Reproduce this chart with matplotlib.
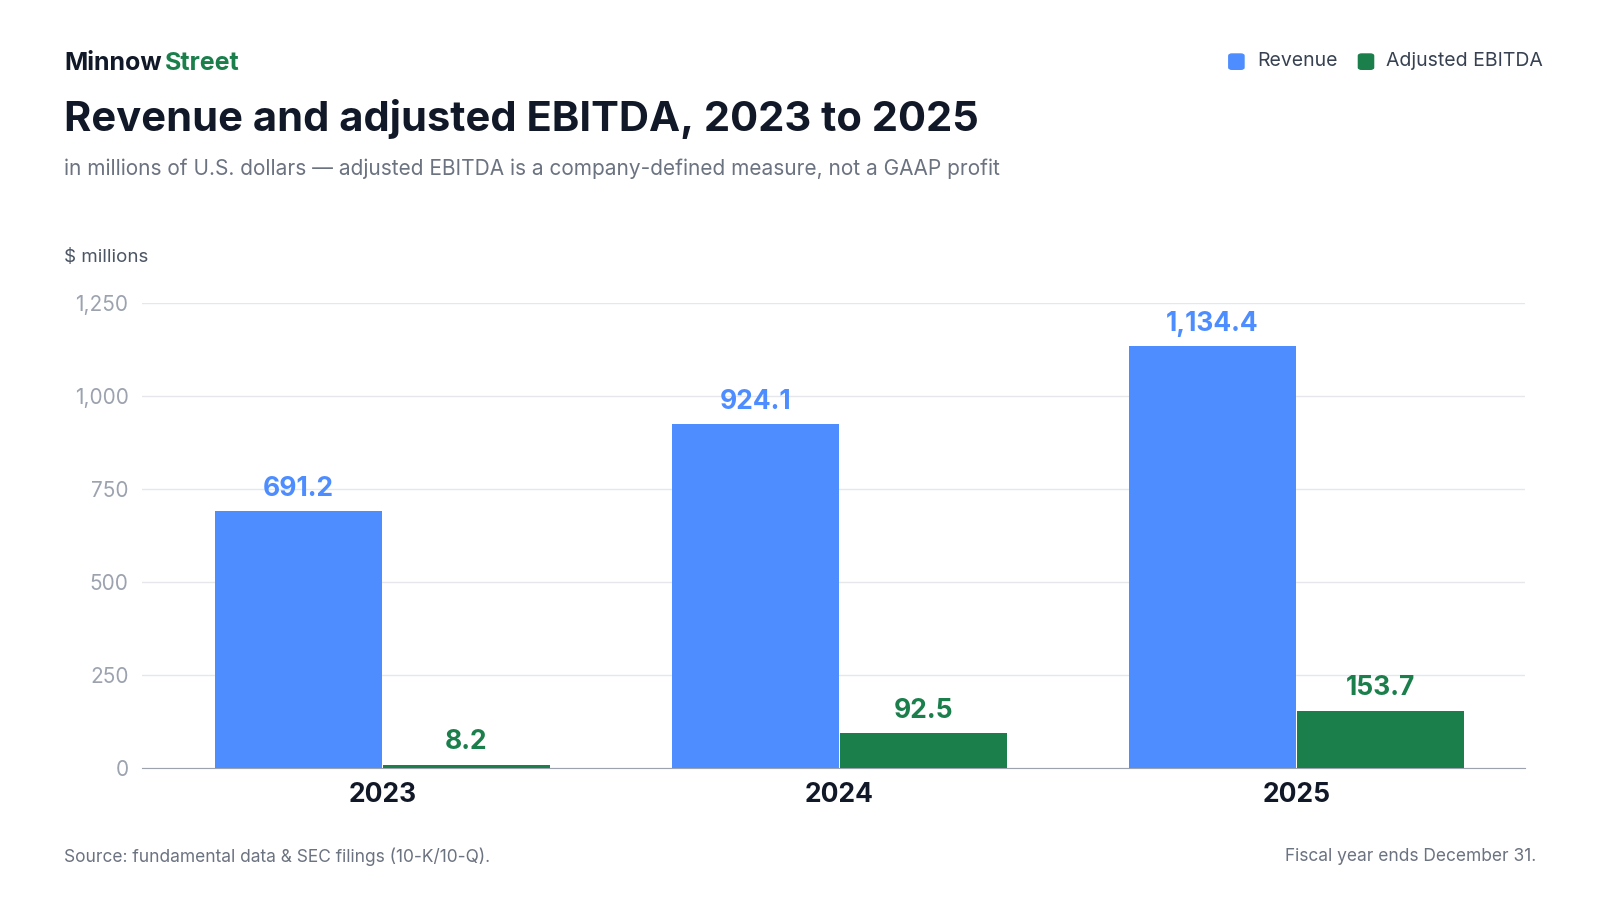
import matplotlib
matplotlib.use("Agg")
import matplotlib.pyplot as plt

years = ["2023", "2024", "2025"]
revenue = [691.2, 924.1, 1134.4]
ebitda = [8.2, 92.5, 153.7]
yticks = [0, 250, 500, 750, 1000, 1250]

plt.rcParams['font.family'] = ['Inter', 'DejaVu Sans']
BLUE = "#4D8DFF"; GREEN = "#1B7F4C"; DARK = "#111827"; GREY = "#6B7280"

fig = plt.figure(figsize=(16, 9), dpi=100)
ax = fig.add_axes([0.089, 0.147, 0.864, 0.516])
w = 0.368
x = range(len(years))
ax.bar([i - w/2 for i in x], revenue, w*0.995, color=BLUE, zorder=3)
ax.bar([i + w/2 for i in x], ebitda, w*0.995, color=GREEN, zorder=3)
for i in x:
    ax.text(i - w/2, revenue[i] + 25, f"{revenue[i]:,.1f}", ha="center", va="bottom",
            color=BLUE, fontsize=19, fontweight="bold")
    ax.text(i + w/2, ebitda[i] + 25, f"{ebitda[i]:,.1f}", ha="center", va="bottom",
            color=GREEN, fontsize=19, fontweight="bold")
ax.set_xlim(-0.525, 2.5)
ax.set_ylim(0, 1250)
ax.set_yticks(yticks)
ax.set_yticklabels([f"{v:,}" for v in yticks], color="#9CA3AF", fontsize=15)
ax.set_xticks(list(x))
ax.set_xticklabels(years, fontsize=19, fontweight="bold", color=DARK)
ax.tick_params(axis="both", length=0, pad=10)
ax.grid(axis="y", color="#E5E7EB", lw=1, zorder=0)
for s in ["top", "right", "left"]:
    ax.spines[s].set_visible(False)
ax.spines["bottom"].set_color("#9CA3AF")

fig.text(0.04, 0.93, "Minnow", fontsize=18, fontweight="bold", color=DARK, va="center")
fig.text(0.103, 0.93, "Street", fontsize=18, fontweight="bold", color=GREEN, va="center")
fig.text(0.04, 0.868, "Revenue and adjusted EBITDA, 2023 to 2025", fontsize=30,
         fontweight="bold", color=DARK, va="center")
fig.text(0.04, 0.813, "in millions of U.S. dollars — adjusted EBITDA is a company-defined measure, not a GAAP profit",
         fontsize=15, color=GREY, va="center")
fig.text(0.04, 0.714, "$ millions", fontsize=13.5, color="#4B5563", va="center")
fig.text(0.04, 0.048, "Source: fundamental data & SEC filings (10-K/10-Q).", fontsize=12.5, color=GREY, va="center")
fig.text(0.96, 0.048, "Fiscal year ends December 31.", fontsize=12.5, color=GREY, va="center", ha="right")

from matplotlib.patches import FancyBboxPatch
def leg(xp, color, label):
    fig.patches.append(FancyBboxPatch((xp, 0.923), 0.0095, 0.017, boxstyle="round,pad=0,rounding_size=0.002",
                                      transform=fig.transFigure, color=color))
    fig.text(xp + 0.0175, 0.932, label, fontsize=14, color="#374151", va="center")
leg(0.768, BLUE, "Revenue")
leg(0.849, GREEN, "Adjusted EBITDA")

fig.savefig("out.png", dpi=100, facecolor="white")
